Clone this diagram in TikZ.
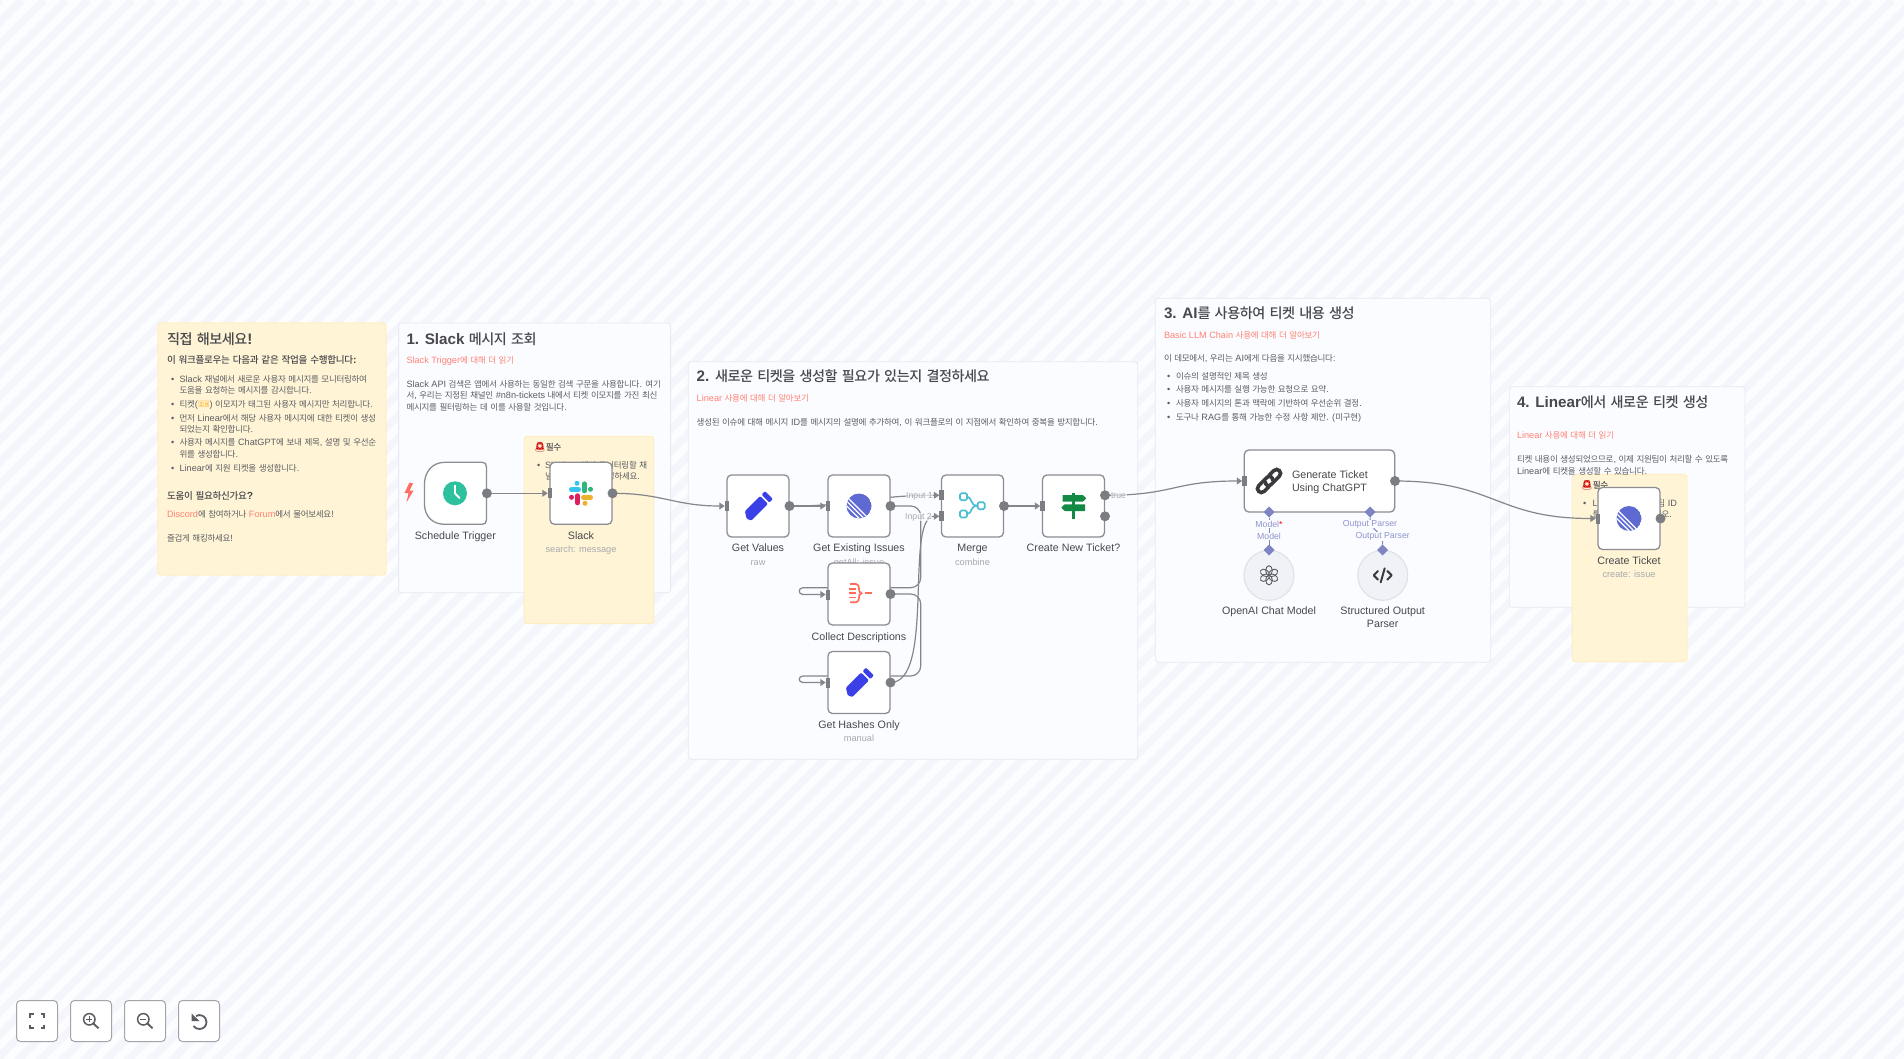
\documentclass[tikz,border=0pt]{standalone}
\usepackage{fontspec}
\usetikzlibrary{arrows.meta,shapes.geometric,calc}
\setmainfont{Liberation Sans}
\newfontfamily\krf{Noto Sans CJK KR}[Scale=0.93,LetterSpace=-3.3,BoldFont={Noto Sans CJK KR Medium}]
\newfontfamily\emojif{Noto Emoji}
% automatic switch to the Korean family for Hangul syllables
\XeTeXinterchartokenstate=1
\chardef\krc=7
\makeatletter
\count@="AC00
\loop\XeTeXcharclass\count@=\krc\ifnum\count@<"D7A3 \advance\count@ 1 \repeat
\makeatother
\XeTeXinterchartoks 0 \krc={\krf}
\XeTeXinterchartoks 4095 \krc={\krf}
\XeTeXinterchartoks \krc 0={\rmfamily}
\XeTeXinterchartoks \krc 4095={\rmfamily}
\definecolor{bgA}{HTML}{FCFDFE}
\definecolor{bgB}{HTML}{F5F6FB}
\definecolor{notefill}{HTML}{FBFCFF}
\definecolor{noteline}{HTML}{E7E9F2}
\definecolor{stickyfill}{HTML}{FFF5D6}
\definecolor{stickyline}{HTML}{FFEAB0}
\definecolor{txt}{HTML}{5C5C62}
\definecolor{head}{HTML}{48484D}
\definecolor{linkc}{HTML}{FF8273}
\definecolor{subc}{HTML}{A8A8AE}
\definecolor{edgec}{HTML}{85868C}
\definecolor{boxline}{HTML}{8C8D93}
\definecolor{portc}{HTML}{7C7D83}
\definecolor{aic}{HTML}{7F84C2}
\definecolor{ailabel}{HTML}{8F93CC}
\definecolor{penc}{HTML}{3B3FE6}
\definecolor{linc}{HTML}{5E6AD2}
\pgfdeclarelayer{notes}
\pgfdeclarelayer{edges}
\pgfsetlayers{notes,edges,main}
\tikzset{
  notebox/.style={draw=noteline,fill=notefill,line width=.8pt,rounded corners=3pt},
  stickybox/.style={draw=stickyline,fill=stickyfill,line width=.8pt,rounded corners=3pt},
  flowbox/.style={draw=boxline,fill=white,line width=1.3pt,rounded corners=4.5pt,minimum width=62pt,minimum height=62pt,inner sep=0pt,outer sep=0pt},
  inport/.style={fill=portc,minimum width=4.5pt,minimum height=10pt,inner sep=0pt,outer sep=0pt},
  outport/.style={fill=portc,circle,minimum size=10pt,inner sep=0pt,outer sep=0pt},
  edge/.style={draw=edgec,line width=1.2pt},
  arrowedge/.style={edge,-{Triangle[length=5.5pt,width=7pt]}},
  base/.style={anchor=base west,inner sep=0pt,outer sep=0pt},
  body/.style={base,text=txt,font=\fontsize{9.15}{11}\selectfont},
  linkt/.style={base,text=linkc,font=\fontsize{9.15}{11}\selectfont},
  sechead/.style={base,text=head,font=\fontsize{15.2}{18}\selectfont\bfseries},
  subhead/.style={base,text=head,font=\fontsize{10.3}{12}\selectfont\bfseries},
  nlabel/.style={anchor=base,inner sep=0pt,outer sep=0pt,text=head,font=\fontsize{10.7}{12}\selectfont},
  nsub/.style={anchor=base,inner sep=0pt,outer sep=0pt,text=subc,font=\fontsize{9.2}{11}\selectfont},
  elabel/.style={inner sep=.5pt,fill=notefill,fill opacity=.7,text opacity=1,text=subc,font=\fontsize{8.7}{10}\selectfont},
  ailab/.style={inner sep=.5pt,fill=notefill,text=ailabel,font=\fontsize{8.7}{10}\selectfont},
  aidia/.style={shape=diamond,fill=aic,minimum width=11pt,minimum height=11pt,inner sep=0pt,outer sep=0pt},
  aicirc/.style={circle,draw=noteline!70!boxline!60!white,fill=bgB!70!noteline,line width=1.1pt,minimum size=50pt,inner sep=0pt,outer sep=0pt},
  ctrl/.style={draw=boxline!80!white,fill=white,line width=1pt,rounded corners=4pt,minimum width=41pt,minimum height=41pt,inner sep=0pt,outer sep=0pt},
  pics/pencilicon/.style={code={
    \begin{scope}[rotate=45]
      \fill[penc,rounded corners=1pt] (-17,1) -- (-13,-5.5) -- (8.5,-5.5) -- (8.5,5.5) -- (-15,5.5) -- cycle;
      \fill[penc,rounded corners=1pt] (10.5,-5.5) -- (15.5,-5.5) -- (15.5,5.5) -- (10.5,5.5) -- cycle;
    \end{scope}}},
  pics/linearicon/.style={code={
    \begin{scope}
      \clip (0,0) circle (12.5);
      \fill[linc] (0,0) circle (12.5);
      \foreach \d in {2.1,5.4,8.7}
        \draw[white,line width=1.25pt] ({-14-\d*.7},{-14+\d*.7}) -- ({14-\d*.7},{14+\d*.7});
    \end{scope}}}
}
\begin{document}
\begin{tikzpicture}[x=1pt,y=-1pt]
\useasboundingbox (0,0) rectangle (1904,1059);
\begin{pgfonlayer}{notes}
  \begin{scope}
    \clip (0,0) rectangle (1904,1059);
    \fill[bgA] (0,0) rectangle (1904,1059);
    \foreach \k in {0,22,...,3000}
      \draw[bgB,line width=7.5pt] (\k,0) -- ({\k-1100},1100);
  \end{scope}
  \draw[stickybox] (158,323) rectangle (386,575);
  \draw[notebox] (398.6,323) rectangle (670.6,592.7);
  \draw[notebox] (688.3,361.7) rectangle (1137.7,759.3);
  \draw[notebox] (1155.3,298.3) rectangle (1490.7,662.3);
  \draw[notebox] (1509.3,386.7) rectangle (1745,607.3);
  \draw[stickybox] (524.3,436.3) rectangle (653.8,623.7);
  \draw[stickybox] (1572.3,474.3) rectangle (1687,661.7);

  % sticky intro
  \node[sechead] (h0) at (167,344.2) {직접 해보세요!};
  \node[subhead] (h0b) at (167,363.5) {이 워크플로우는 다음과 같은 작업을 수행합니다:};
  \node[body] (b01) at (171,382) {•};
  \node[body] (l01) at (179.6,382) {Slack 채널에서 새로운 사용자 메시지를 모니터링하여};
  \node[body] (l02) at (179.6,393) {도움을 요청하는 메시지를 감시합니다.};
  \node[body] (b02) at (171,407) {•};
  \node[body] (l03) at (179.6,407) {티켓({\color{orange!70!yellow}\emojif 🎫}) 이모지가 태그된 사용자 메시지만 처리합니다.};
  \node[body] (b03) at (171,421) {•};
  \node[body] (l04) at (179.6,421) {먼저 Linear에서 해당 사용자 메시지에 대한 티켓이 생성};
  \node[body] (l05) at (179.6,432) {되었는지 확인합니다.};
  \node[body] (b04) at (171,445.3) {•};
  \node[body] (l06) at (179.6,445.3) {사용자 메시지를 ChatGPT에 보내 제목, 설명 및 우선순};
  \node[body] (l07) at (179.6,457) {위를 생성합니다.};
  \node[body] (b05) at (171,471) {•};
  \node[body] (l08) at (179.6,471) {Linear에 지원 티켓을 생성합니다.};
  \node[subhead] (h0c) at (167,499.8) {도움이 필요하신가요?};
  \node[body] (l09) at (167,517) {\textcolor{linkc}{Discord}에 참여하거나 \textcolor{linkc}{Forum}에서 물어보세요!};
  \node[body] (l10) at (167,541) {즐겁게 해킹하세요!};

  % section 1
  \node[sechead] (h1) at (406.5,344.2) {1. Slack 메시지 조회};
  \node[linkt] (k1) at (406.5,363.3) {Slack Trigger에 대해 더 읽기};
  \node[body] (t11) at (406.5,387) {Slack API 검색은 앱에서 사용하는 동일한 검색 구문을 사용합니다. 여기};
  \node[body] (t12) at (406.5,399) {서, 우리는 지정된 채널인 \#n8n-tickets 내에서 티켓 이모지를 가진 최신};
  \node[body] (t13) at (406.5,410.6) {메시지를 필터링하는 데 이를 사용할 것입니다.};
  \node[base,text=head,font=\fontsize{9.3}{11}\selectfont\bfseries] (s1) at (534,450.6) {{\color{red!80!black}\emojif 🚨}필수};
  \node[body] (b11) at (537,468) {•};
  \node[body] (t14) at (545,468) {Slack\hspace{11pt} 에서 모니터링할 채};
  \node[body] (t15) at (545,479) {널을\hspace{11pt} 반드시 지정하세요.};

  % section 2
  \node[sechead] (h2) at (696.7,381.9) {2. 새로운 티켓을 생성할 필요가 있는지 결정하세요};
  \node[linkt] (k2) at (696.7,401) {Linear 사용에 대해 더 알아보기};
  \node[body] (t21) at (696.7,425) {생성된 이슈에 대해 메시지 ID를 메시지의 설명에 추가하여, 이 워크플로의 이 지점에서 확인하여 중복을 방지합니다.};

  % section 3
  \node[sechead] (h3) at (1164,318.9) {3. AI를 사용하여 티켓 내용 생성};
  \node[linkt] (k3) at (1164,338) {Basic LLM Chain 사용에 대해 더 알아보기};
  \node[body] (t31) at (1164,362) {이 데모에서, 우리는 AI에게 다음을 지시했습니다:};
  \node[body] (b31) at (1167,379) {•};
  \node[body] (t32) at (1176,379) {이슈의 설명적인 제목 생성};
  \node[body] (b32) at (1167,392.3) {•};
  \node[body] (t33) at (1176,392.3) {사용자 메시지를 실행 가능한 요청으로 요약.};
  \node[body] (b33) at (1167,406) {•};
  \node[body] (t34) at (1176,406) {사용자 메시지의 톤과 맥락에 기반하여 우선순위 결정.};
  \node[body] (b34) at (1167,420) {•};
  \node[body] (t35) at (1176,420) {도구나 RAG를 통해 가능한 수정 사항 제안. (미구현)};

  % section 4
  \node[sechead] (h4) at (1517,407.9) {4. Linear에서 새로운 티켓 생성};
  \node[linkt] (k4) at (1517,438.3) {Linear 사용에 대해 더 읽기};
  \node[body] (t41) at (1517,462) {티켓 내용이 생성되었으므로, 이제 지원팀이 처리할 수 있도록};
  \node[body] (t42) at (1517,474) {Linear에 티켓을 생성할 수 있습니다.};
  \node[base,text=head,font=\fontsize{9.3}{11}\selectfont\bfseries] (s4) at (1581,488.6) {{\color{red!80!black}\emojif 🚨}필수};
  \node[body] (b41) at (1583,506) {•};
  \node[body] (t43) at (1592.7,506) {Linear에서 쓸\hspace{11pt} 팀 ID};
  \node[body] (t44) at (1592.7,517.5) {를 꼭 설정해 주십시오.};
\end{pgfonlayer}

% hidden sub label, overlapped by the node below it
\node[nsub] (sexist) at (859,565.3) {getAll: issue};

% flow nodes
\path[draw=boxline,fill=white,line width=1.3pt]
  (445,462.3) .. controls (432,462.3) and (424.4,472) .. (424.4,485) -- (424.4,503)
  .. controls (424.4,516) and (432,524.3) .. (445,524.3) -- (482,524.3)
  .. controls (485,524.3) and (486.4,523) .. (486.4,520) -- (486.4,466.8)
  .. controls (486.4,463.8) and (485,462.3) .. (482,462.3) -- cycle;
\coordinate (sched) at (455.4,493.3);
\node[flowbox] (slack) at (581,493.3) {};
\node[flowbox] (gv) at (758,506) {};
\node[flowbox] (ex) at (859,506) {};
\node[flowbox] (merge) at (972.5,506) {};
\node[flowbox] (iff) at (1073.5,506) {};
\node[flowbox] (coll) at (859,594) {};
\node[flowbox] (hash) at (859,682.5) {};
\node[flowbox,minimum width=150.4pt] (gen) at (1319.5,481) {};
\node[flowbox] (lin) at (1629,518.5) {};
\node[aicirc] (oai) at (1269,575.3) {};
\node[aicirc] (sop) at (1382.7,575.3) {};

% ports
\node[outport] (sched-o) at (486.9,493.3) {};
\node[inport] (slack-i) at (550,493.3) {};
\node[outport] (slack-o) at (612.5,493.3) {};
\node[inport] (gv-i) at (727,506) {};
\node[outport] (gv-o) at (789.5,506) {};
\node[inport] (ex-i) at (828,506) {};
\node[outport] (ex-o) at (890.5,506) {};
\node[inport] (coll-i) at (828,594.5) {};
\node[outport] (coll-o) at (890.5,594) {};
\node[inport] (hash-i) at (828,682.5) {};
\node[outport] (hash-o) at (890.5,682.5) {};
\node[inport] (m-i1) at (941.5,495.3) {};
\node[inport] (m-i2) at (941.5,516.3) {};
\node[outport] (m-o) at (1004,506) {};
\node[inport] (iff-i) at (1042.5,506) {};
\node[outport] (iff-t) at (1105,495.3) {};
\node[outport] (iff-f) at (1105,516.3) {};
\node[inport] (gen-i) at (1244.5,481) {};
\node[outport] (gen-o) at (1395,481) {};
\node[inport] (lin-i) at (1598,518.5) {};
\node[outport] (lin-o) at (1660.5,518.5) {};
\node[aidia] (gen-m) at (1269,512) {};
\node[aidia] (gen-p) at (1370,512) {};
\node[aidia] (oai-d) at (1269,550) {};
\node[aidia] (sop-d) at (1382.7,550) {};

% edges
\begin{pgfonlayer}{edges}
  \draw[arrowedge] (sched-o.center) -- (slack-i.west);
  \draw[arrowedge] (slack-o.center) .. controls +(50,0) and +(-50,0) .. (gv-i.west);
  \draw[arrowedge] (gv-o.center) -- (ex-i.west);
  \draw[arrowedge] (gv-o.center) .. controls +(70,0) and +(-70,0) .. (m-i1.west);
  \draw[arrowedge] (m-o.center) -- (iff-i.west);
  \draw[arrowedge] (ex-o.center) -- (910.7,506) .. controls (916.2,506) and (920.7,510.5) .. (920.7,516)
     -- (920.7,577.7) .. controls (920.7,583.2) and (916.2,587.7) .. (910.7,587.7) -- (803,587.7)
     .. controls (798,587.7) and (798,594.5) .. (803,594.5) -- (coll-i.west);
  \draw[arrowedge] (coll-o.center) -- (910.7,594) .. controls (916.2,594) and (920.7,598.5) .. (920.7,604)
     -- (920.7,666) .. controls (920.7,671.5) and (916.2,676) .. (910.7,676) -- (803,676)
     .. controls (798,676) and (798,682.5) .. (803,682.5) -- (hash-i.west);
  \draw[arrowedge] (hash-o.center) .. controls +(45,0) and +(-35,0) .. (m-i2.west);
  \draw[arrowedge] (iff-t.center) .. controls +(70,0) and +(-70,0) .. (gen-i.west);
  \draw[arrowedge] (gen-o.center) .. controls +(100,0) and +(-100,0) .. (lin-i.west);
  \draw[aic,line width=1pt] (gen-m) -- (oai-d);
  \draw[aic,line width=1pt] (gen-p) .. controls +(0,20) and +(0,-20) .. (sop-d);
\end{pgfonlayer}

% node labels
\node[nlabel] (n1) at (455.4,539.5) {Schedule Trigger};
\node[nlabel] (n2) at (581,539.5) {Slack};
\node[nsub] (n2s) at (581,552.5) {search: message};
\node[nlabel] (n3) at (758,551) {Get Values};
\node[nsub] (n3s) at (758,565.3) {raw};
\node[nlabel] (n4) at (859,551) {Get Existing Issues};
\node[nlabel] (n5) at (972.5,551) {Merge};
\node[nsub] (n5s) at (972.5,565.3) {combine};
\node[nlabel] (n6) at (1073.5,551) {Create New Ticket?};
\node[nlabel] (n7) at (859,640.5) {Collect Descriptions};
\node[nlabel] (n8) at (859,728) {Get Hashes Only};
\node[nsub] (n8s) at (859,741.5) {manual};
\node[nlabel,anchor=base west] (n9) at (1292,478) {Generate Ticket};
\node[nlabel,anchor=base west] (n9b) at (1292,491) {Using ChatGPT};
\node[nlabel] (n10) at (1269,614) {OpenAI Chat Model};
\node[nlabel] (n11) at (1382.7,614) {Structured Output};
\node[nlabel] (n11b) at (1382.7,627) {Parser};
\node[nlabel] (n12) at (1629,564) {Create Ticket};
\node[nsub] (n12s) at (1629,577.5) {create: issue};

% edge labels
\node[elabel] (e1) at (919.5,496) {Input 1};
\node[elabel] (e2) at (918.5,517) {Input 2};
\node[elabel] (e3) at (1118.5,496) {true};
\node[ailab] (e4) at (1269,524) {Model\textcolor{red}{*}};
\node[ailab] (e5) at (1269,536.8) {Model};
\node[ailab] (e6) at (1370,524) {Output Parser};
\node[ailab] (e7) at (1382.7,536.8) {Output Parser};

% lightning mark
\fill[linkc!85!red] (409.5,482.5) -- (404.5,493) -- (408.5,493) -- (406.5,502.5) -- (413.5,490.5) -- (409.5,490.5) -- (413,483.5) -- cycle;

% icons
\fill[fill={rgb,255:red,45;green,193;blue,157}] (455,493.3) circle (12);
\draw[white,line width=1.8pt,line cap=round,line join=round] (455,485.5) -- (455,493.5) -- (459.5,498);

\begin{scope}[shift={(581,493.3)},line cap=round]
  \draw[line width=5pt,color={rgb,255:red,54;green,197;blue,240}] (-9.5,-4) -- (-2.5,-4);
  \fill[color={rgb,255:red,54;green,197;blue,240}] (-4,-10) circle (2.5);
  \draw[line width=5pt,color={rgb,255:red,46;green,182;blue,125}] (3.5,-9.5) -- (3.5,-2.5);
  \fill[color={rgb,255:red,46;green,182;blue,125}] (9.5,-4) circle (2.5);
  \draw[line width=5pt,color={rgb,255:red,236;green,178;blue,46}] (2.5,4) -- (9.5,4);
  \fill[color={rgb,255:red,236;green,178;blue,46}] (4,10) circle (2.5);
  \draw[line width=5pt,color={rgb,255:red,224;green,30;blue,90}] (-3.5,2.5) -- (-3.5,9.5);
  \fill[color={rgb,255:red,224;green,30;blue,90}] (-9.5,4) circle (2.5);
\end{scope}

\pic at (758,506) {pencilicon};
\pic at (859,682.5) {pencilicon};
\pic at (859,506) {linearicon};
\pic at (1629,518.5) {linearicon};

\begin{scope}[shift={(859,594)},draw={rgb,255:red,255;green,109;blue,90},line width=1.7pt]
  \draw[line cap=butt] (-10.5,-5) -- (-3,-5) (-10.5,-.7) -- (-3,-.7) (-10.5,3.6) -- (-3,3.6);
  \draw (-9,-10) -- (-3,-10) .. controls (2,-10) and (-2,-1) .. (2.5,-.7) .. controls (-2,-.4) and (2,8) .. (-3,8.3) -- (-9,8.3);
  \draw (6,-.7) -- (12.7,-.7);
\end{scope}

\begin{scope}[shift={(972.5,506)},draw={rgb,255:red,75;green,190;blue,210},line width=1.7pt]
  \draw[rounded corners=1.5pt] (-12.5,-12.8) rectangle (-5.5,-5.8);
  \draw[rounded corners=1.5pt] (-12.5,4.5) rectangle (-5.5,11.5);
  \draw[rounded corners=1.5pt] (5.2,-3.8) rectangle (12.2,3.2);
  \draw (-5.5,-9.3) .. controls (0,-9.3) and (-3,-.3) .. (5.2,-.3);
  \draw (-5.5,8) .. controls (0,8) and (-3,-.3) .. (5.2,-.3);
\end{scope}

\begin{scope}[shift={(1073.5,506)},fill={rgb,255:red,17;green,138;blue,69}]
  \fill (-1.4,-13) rectangle (1.4,12.5);
  \fill[rounded corners=.6pt] (-11,-11) -- (9.5,-11) -- (12.7,-7.6) -- (9.5,-4.3) -- (-11,-4.3) -- cycle;
  \fill[rounded corners=.6pt] (11.7,-1.7) -- (-9,-1.7) -- (-12.3,1.6) -- (-9,5) -- (11.7,5) -- cycle;
\end{scope}

\begin{scope}[shift={(1269,481)},rotate=45,draw=head!80!black,line width=3.6pt,line cap=round]
  \draw (-4,4) -- (-10.5,4) .. controls (-16,4) and (-16,-4) .. (-10.5,-4) -- (1,-4) .. controls (5,-4) and (5.3,0) .. (3.2,2);
  \draw (4,-4) -- (10.5,-4) .. controls (16,-4) and (16,4) .. (10.5,4) -- (-1,4) .. controls (-5,4) and (-5.3,0) .. (-3.2,-2);
\end{scope}

\begin{scope}[shift={(1269,575.3)},draw=txt,line width=.9pt]
  \foreach \a in {30,90,...,330}
    \draw[rotate=\a] (4.8,0) ellipse (4.8 and 3.3);
\end{scope}

\begin{scope}[shift={(1382.7,575.3)},draw=head!80!black,line width=2pt,line cap=round,line join=round]
  \draw (-4.7,-4.3) -- (-9,0) -- (-4.7,4.3);
  \draw (4.7,-4.3) -- (9,0) -- (4.7,4.3);
  \draw (2,-7) -- (-2,7);
\end{scope}

% canvas controls
\node[ctrl] (c1) at (37,1021) {};
\node[ctrl] (c2) at (91,1021) {};
\node[ctrl] (c3) at (145,1021) {};
\node[ctrl] (c4) at (199,1021) {};
\begin{scope}[draw=txt,line width=1.5pt]
  \draw (30,1017.5) -- (30,1014) -- (33.5,1014) (40.5,1014) -- (44,1014) -- (44,1017.5)
        (44,1024.5) -- (44,1028) -- (40.5,1028) (33.5,1028) -- (30,1028) -- (30,1024.5);
  \draw (89.3,1019.3) circle (5.7);
  \draw[line width=1.9pt] (93.5,1023.5) -- (98.5,1028.3);
  \draw[line width=1.1pt] (86.3,1019.3) -- (92.3,1019.3) (89.3,1016.3) -- (89.3,1022.3);
  \draw (143.3,1019.3) circle (5.7);
  \draw[line width=1.9pt] (147.5,1023.5) -- (152.5,1028.3);
  \draw[line width=1.1pt] (140.3,1019.3) -- (146.3,1019.3);
  \draw[line width=1.8pt] (196,1016) .. controls (200,1013.5) and (206.5,1016) .. (206.5,1022) .. controls (206.5,1026) and (203.5,1029) .. (199.5,1029) .. controls (197,1029) and (195,1028) .. (193.5,1026);
  \fill[txt] (191.7,1013.5) -- (191.7,1021) -- (199.3,1021) -- cycle;
\end{scope}
\end{tikzpicture}
\end{document}
